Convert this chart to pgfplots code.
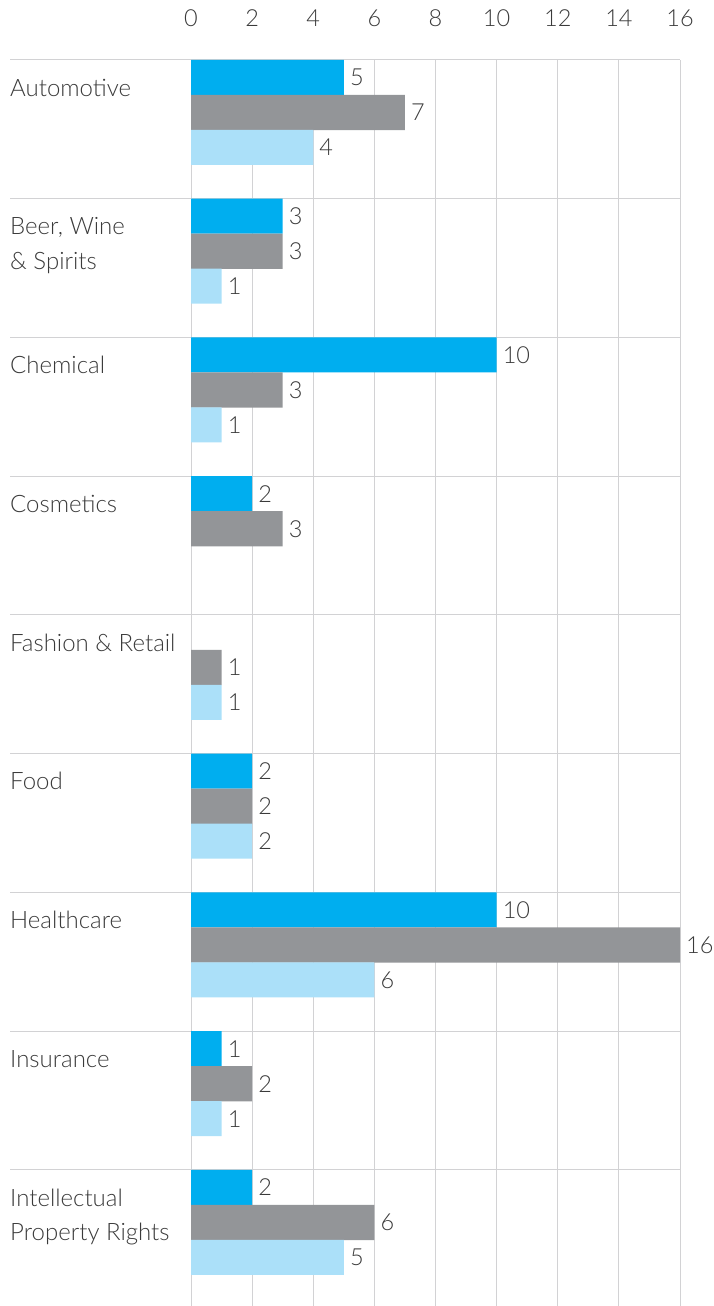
\documentclass[border=0pt]{standalone}
\usepackage{pgfplots}
\usepackage{pgfplotstable}
\pgfplotsset{compat=1.18}
\usepackage{fontspec}
\setmainfont{Lato}[UprightFont={* Light}]
\definecolor{cblue}{RGB}{0,174,239}
\definecolor{cgray}{RGB}{147,149,152}
\definecolor{clight}{RGB}{171,224,249}
\definecolor{gridc}{RGB}{210,210,212}
\definecolor{txt}{RGB}{58,58,58}

\pgfplotstableread{
i v
0 5
1 3
2 10
3 2
5 2
6 10
7 1
8 2
}\tblblue
\pgfplotstableread{
i v
0 7
1 3
2 3
3 3
4 1
5 2
6 16
7 2
8 6
}\tblgray
\pgfplotstableread{
i v
0 4
1 1
2 1
4 1
5 2
6 6
7 1
8 5
}\tbllight

\newcommand{\lblfont}{\fontsize{24}{28}\selectfont}
\newcommand{\valfont}{\fontsize{23.5}{28}\selectfont}
\begin{document}
\begin{tikzpicture}
\begin{axis}[
  at={(191pt,-60pt)}, anchor=north west,
  scale only axis, width=489pt, height=1246pt,
  xmin=0, xmax=16, ymin=-8.98, ymax=0,
  xbar, bar width=0.2523,
  axis line style={draw=none},
  xtick={0,2,...,16}, xticklabel pos=upper,
  major tick length=0pt,
  xmajorgrids, grid style={gridc, line width=1pt},
  ytick=\empty,
  clip=false,
  /pgf/number format/assume math mode=true,
  xticklabel style={anchor=base, yshift=33pt, font=\valfont, text=txt},
  nodes near coords,
  nodes near coords style={font=\valfont, text=txt, anchor=west, inner sep=0pt, xshift=6pt},
]
\pgfplotsinvokeforeach{0,...,8}{
  \draw[gridc, line width=1pt] (axis cs:-5.922,-#1) -- (axis cs:16,-#1);
}
\addplot[fill=cblue, draw=none, bar shift=0pt] table[x=v, y expr=-\thisrow{i}-0.1261] {\tblblue};
\addplot[fill=cgray, draw=none, bar shift=0pt] table[x=v, y expr=-\thisrow{i}-0.3784] {\tblgray};
\addplot[fill=clight, draw=none, bar shift=0pt] table[x=v, y expr=-\thisrow{i}-0.6306] {\tbllight};

\tikzset{cat/.style={anchor=base west, inner sep=0pt, font=\lblfont, text=txt}}
\node[cat] at (axis cs:-5.922,-0.2595) {Automotive};
\node[cat] at (axis cs:-5.922,-1.2595) {Beer, Wine};
\node[cat] at (axis cs:-5.922,-1.5117) {\& Spirits};
\node[cat] at (axis cs:-5.922,-2.2595) {Chemical};
\node[cat] at (axis cs:-5.922,-3.2595) {Cosmetics};
\node[cat] at (axis cs:-5.922,-4.2595) {Fashion \& Retail};
\node[cat] at (axis cs:-5.922,-5.2595) {Food};
\node[cat] at (axis cs:-5.922,-6.2595) {Healthcare};
\node[cat] at (axis cs:-5.922,-7.2595) {Insurance};
\node[cat] at (axis cs:-5.922,-8.2595) {Intellectual};
\node[cat] at (axis cs:-5.922,-8.5117) {Property Rights};
\end{axis}
\pgfresetboundingbox
\path[use as bounding box] (0pt,0pt) rectangle (713pt,-1306pt);
\end{tikzpicture}
\end{document}
